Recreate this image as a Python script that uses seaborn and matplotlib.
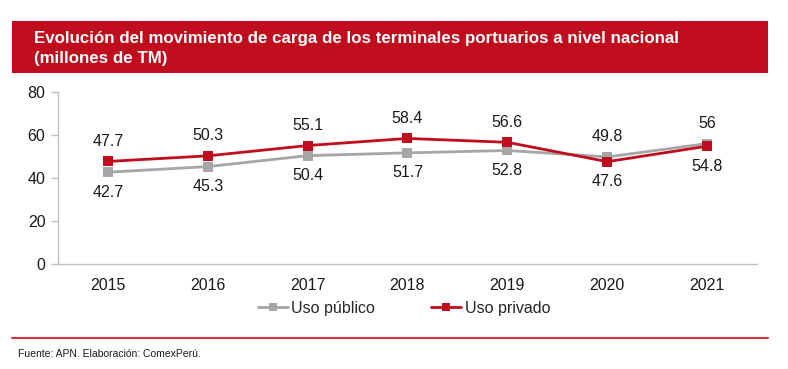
import pandas as pd
import numpy as np
import matplotlib
matplotlib.use("Agg")
import matplotlib.pyplot as plt
import seaborn as sns
from matplotlib.patches import Rectangle
from matplotlib.lines import Line2D

# DATA
years = ["2015", "2016", "2017", "2018", "2019", "2020", "2021"]
uso_publico = [42.7, 45.3, 50.4, 51.7, 52.8, 49.8, 56.0]
uso_privado = [47.7, 50.3, 55.1, 58.4, 56.6, 47.6, 54.8]
publico_labels = ["42.7", "45.3", "50.4", "51.7", "52.8", "49.8", "56"]
privado_labels = ["47.7", "50.3", "55.1", "58.4", "56.6", "47.6", "54.8"]
# label above (+1) or below (-1) the point
publico_side = [-1, -1, -1, -1, -1, 1, 1]
privado_side = [1, 1, 1, 1, 1, -1, -1]

RED = "#C00D1E"
GRAY = "#A6A6A6"
AXIS = "#BFBFBF"

sns.set_theme(style="white")
plt.rcParams["font.family"] = ["Liberation Sans", "DejaVu Sans"]

df = pd.DataFrame({
    "year": years * 2,
    "valor": uso_publico + uso_privado,
    "serie": ["Uso público"] * len(years) + ["Uso privado"] * len(years),
})

fig = plt.figure(figsize=(7.88, 3.69), dpi=100)
ax = fig.add_axes([58 / 788, 1 - 264 / 369, 699 / 788, 172 / 369])

sns.lineplot(data=df, x="year", y="valor", hue="serie",
             palette={"Uso público": GRAY, "Uso privado": RED},
             marker="s", markersize=7, markeredgewidth=0, linewidth=2,
             sort=False, legend=False, ax=ax)

ax.set_xlim(-0.5, len(years) - 0.5)
ax.set_ylim(0, 80)
ax.set_yticks([0, 20, 40, 60, 80])
ax.set_xticks(range(len(years)))
ax.set_xticklabels(years)
ax.set_xticks(np.arange(-0.5, len(years), 1), minor=True)
ax.tick_params(axis="x", which="major", length=0, labelsize=11.5, pad=10, colors="#1a1a1a")
ax.tick_params(axis="x", which="minor", length=5, width=1, color=AXIS, direction="out")
ax.tick_params(axis="y", length=5, width=1, color=AXIS, labelsize=11.5, pad=4,
               labelcolor="#1a1a1a", direction="out", left=True)
ax.set_xlabel("")
ax.set_ylabel("")
for s in ["top", "right"]:
    ax.spines[s].set_visible(False)
for s in ["left", "bottom"]:
    ax.spines[s].set_color(AXIS)
    ax.spines[s].set_linewidth(1)

for vals, labs, sides in [(uso_publico, publico_labels, publico_side),
                          (uso_privado, privado_labels, privado_side)]:
    for i, (v, lab, sd) in enumerate(zip(vals, labs, sides)):
        ax.annotate(lab, (i, v), xytext=(0, 14.5 * sd), textcoords="offset points",
                    ha="center", va="center", fontsize=11.5, color="#1a1a1a")

handles = [Line2D([], [], color=GRAY, marker="s", markersize=6, markeredgewidth=0, lw=2),
           Line2D([], [], color=RED, marker="s", markersize=6, markeredgewidth=0, lw=2)]
fig.legend(handles, ["Uso público", "Uso privado"], loc="center",
           bbox_to_anchor=(404 / 788, 1 - 308 / 369), ncol=2, frameon=False,
           fontsize=11.5, handlelength=1.9, handletextpad=0.2, columnspacing=3.5)

# title bar
fig.patches.append(Rectangle((12 / 788, 1 - 73 / 369), 756 / 788, 52 / 369,
                             transform=fig.transFigure, facecolor=RED, edgecolor="none"))
fig.text(34 / 788, 1 - 38 / 369, "Evolución del movimiento de carga de los terminales portuarios a nivel nacional",
         color="white", fontsize=12.2, fontweight="bold", va="center", ha="left")
fig.text(34 / 788, 1 - 58 / 369, "(millones de TM)",
         color="white", fontsize=12.2, fontweight="bold", va="center", ha="left")

# bottom rule and source
fig.lines.append(Line2D([12 / 788, 768 / 788], [1 - 338 / 369, 1 - 338 / 369],
                        transform=fig.transFigure, color="#D0343F", lw=1.5))
fig.text(18 / 788, 1 - 354 / 369, "Fuente: APN. Elaboración: ComexPerú.",
         fontsize=7.5, color="#1a1a1a", va="center", ha="left")

fig.savefig("out.png", dpi=100)
